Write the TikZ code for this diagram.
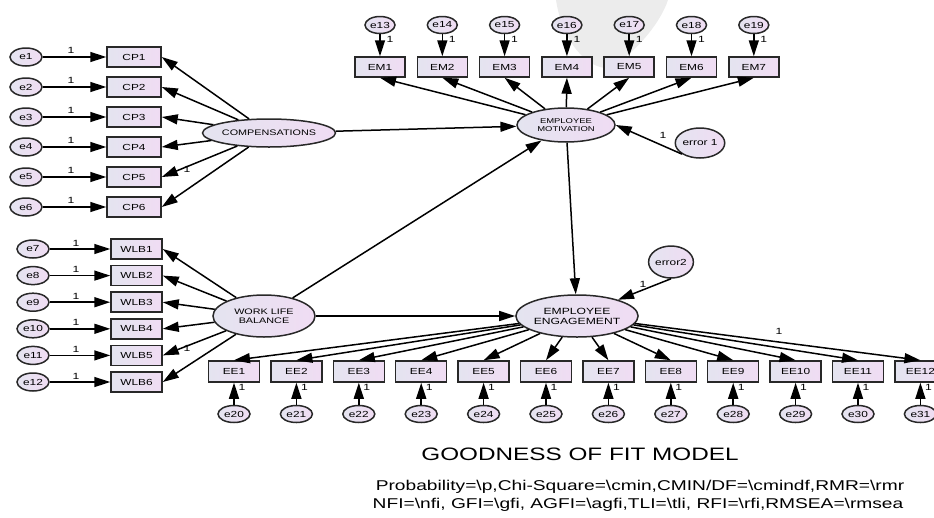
\documentclass[tikz,border=0pt]{standalone}
\usepackage{fontspec}
\setmainfont[FakeStretch=1.35]{Liberation Sans}
\usetikzlibrary{arrows.meta,shapes.geometric}
\definecolor{fillL}{RGB}{228,228,240}
\definecolor{fillR}{RGB}{240,220,243}
\definecolor{edge}{RGB}{40,40,40}
\definecolor{wmark}{RGB}{236,236,236}
\newcommand{\bs}{\textbackslash{}}
\begin{document}
\begin{tikzpicture}[x=1pt,y=-1pt,
  obs/.style={rectangle, draw=edge, line width=1.5pt, left color=fillL, right color=fillR,
    minimum width=54pt, minimum height=20pt, inner sep=0pt, font=\fontsize{8.8}{9}\selectfont},
  err/.style={ellipse, draw=edge, line width=1.5pt, left color=fillL, right color=fillR,
    minimum width=32pt, minimum height=18pt, inner sep=0pt, font=\fontsize{8.8}{9}\selectfont},
  lat/.style={ellipse, draw=edge, line width=1.5pt, left color=fillL, right color=fillR,
    inner sep=0pt, align=center},
  arr/.style={-{Triangle[length=16pt,width=10pt]}, line width=1.5pt, black},
  lab/.style={inner sep=0pt, font=\fontsize{9}{9}\selectfont}
]
\useasboundingbox (0,0) rectangle (934,517);
\clip (0,0) rectangle (934,517);
% faint watermark
\fill[wmark] (556,0) .. controls (562,40) and (585,66) .. (605,68) .. controls (628,62) and (660,25) .. (668,0) -- cycle;

% latent variables
\node[lat, minimum width=106pt, minimum height=28pt, font=\fontsize{8}{8}\selectfont] (comp) at (269,133) {COMPENSATIONS};
\node[lat, minimum width=102pt, minimum height=42pt, font=\fontsize{8}{9}\selectfont] (wlb) at (264,316) {WORK LIFE\\BALANCE};
\node[lat, minimum width=98pt, minimum height=34pt, font=\fontsize{7}{8}\selectfont] (em) at (566,125) {EMPLOYEE\\MOTIVATION};
\node[lat, minimum width=99pt, minimum height=42pt, font=\fontsize{9}{10}\selectfont] (ee) at (577,316) {EMPLOYEE\\ENGAGEMENT};
\node[err, minimum width=47pt, minimum height=30pt] (err1) at (700,143) {error 1};
\node[err, minimum width=40pt, minimum height=32pt] (err2) at (671,262) {error2};

% compensations indicators
\foreach \k in {1,...,6}{
  \node[err] (e\k) at (26,{27+30*\k}) {e\k};
  \node[obs] (cp\k) at (134,{27+30*\k}) {CP\k};
  \draw[arr] (e\k) -- (cp\k);
  \node[lab] at (71,{20+30*\k}) {1};
  \draw[arr] (comp) -- (cp\k.east);
}
\node[lab] at (187,169) {1};

% work life balance indicators
\foreach \k/\n in {1/7,2/8,3/9,4/10,5/11,6/12}{
  \node[err] (e\n) at (33,{222.4+26.6*\k}) {e\n};
  \node[obs, minimum width=51pt] (wlb\k) at (136.5,{222.4+26.6*\k}) {WLB\k};
  \draw[arr] (e\n) -- (wlb\k);
  \node[lab] at (76,{216.4+26.6*\k}) {1};
  \draw[arr] (wlb) -- (wlb\k.east);
}
\node[lab] at (187,348) {1};

% employee motivation indicators
\foreach \k/\n in {1/13,2/14,3/15,4/16,5/17,6/18,7/19}{
  \node[err, minimum width=30pt, minimum height=17pt] (e\n) at ({317.7+62.3*\k},25) {e\n};
  \node[obs, minimum width=50pt] (em\k) at ({317.7+62.3*\k},67) {EM\k};
  \draw[arr] (e\n) -- (em\k);
  \node[lab] at ({327.7+62.3*\k},39) {1};
  \draw[arr] (em) -- (em\k.south);
}

% employee engagement indicators
\foreach \k/\n in {1/20,2/21,3/22,4/23,5/24,6/25,7/26,8/27,9/28,10/29,11/30,12/31}{
  \node[err, minimum height=17pt] (e\n) at ({171.6+62.4*\k},414) {e\n};
  \node[obs, minimum width=51pt, minimum height=21pt] (ee\k) at ({171.6+62.4*\k},371.5) {EE\k};
  \draw[arr] (e\n) -- (ee\k);
  \node[lab] at ({179.6+62.4*\k},387) {1};
  \draw[arr] (ee) -- (ee\k.north);
}
\node[lab] at (779,331) {1};

% structural paths
\draw[arr] (comp) -- (em);
\draw[arr] (wlb) -- (em);
\draw[arr] (wlb) -- (ee);
\draw[arr] (em) -- (ee);
\draw[arr] (err1.south west) -- (em.east);
\node[lab] at (663,135) {1};
\draw[arr] (err2.south) -- (ee);
\node[lab] at (643,284) {1};

% captions
\node[inner sep=0pt, font=\fontsize{18}{18}\selectfont] (title) at (580,454) {GOODNESS OF FIT MODEL};
\node[inner sep=0pt, font=\fontsize{14.2}{14.2}\selectfont] (fit1) at (640,487) {Probability=\bs p,Chi-Square=\bs cmin,CMIN/DF=\bs cmindf,RMR=\bs rmr};
\node[inner sep=0pt, font=\fontsize{14.2}{14.2}\selectfont] (fit2) at (638,505) {NFI=\bs nfi, GFI=\bs gfi, AGFI=\bs agfi,TLI=\bs tli, RFI=\bs rfi,RMSEA=\bs rmsea};
\end{tikzpicture}
\end{document}
